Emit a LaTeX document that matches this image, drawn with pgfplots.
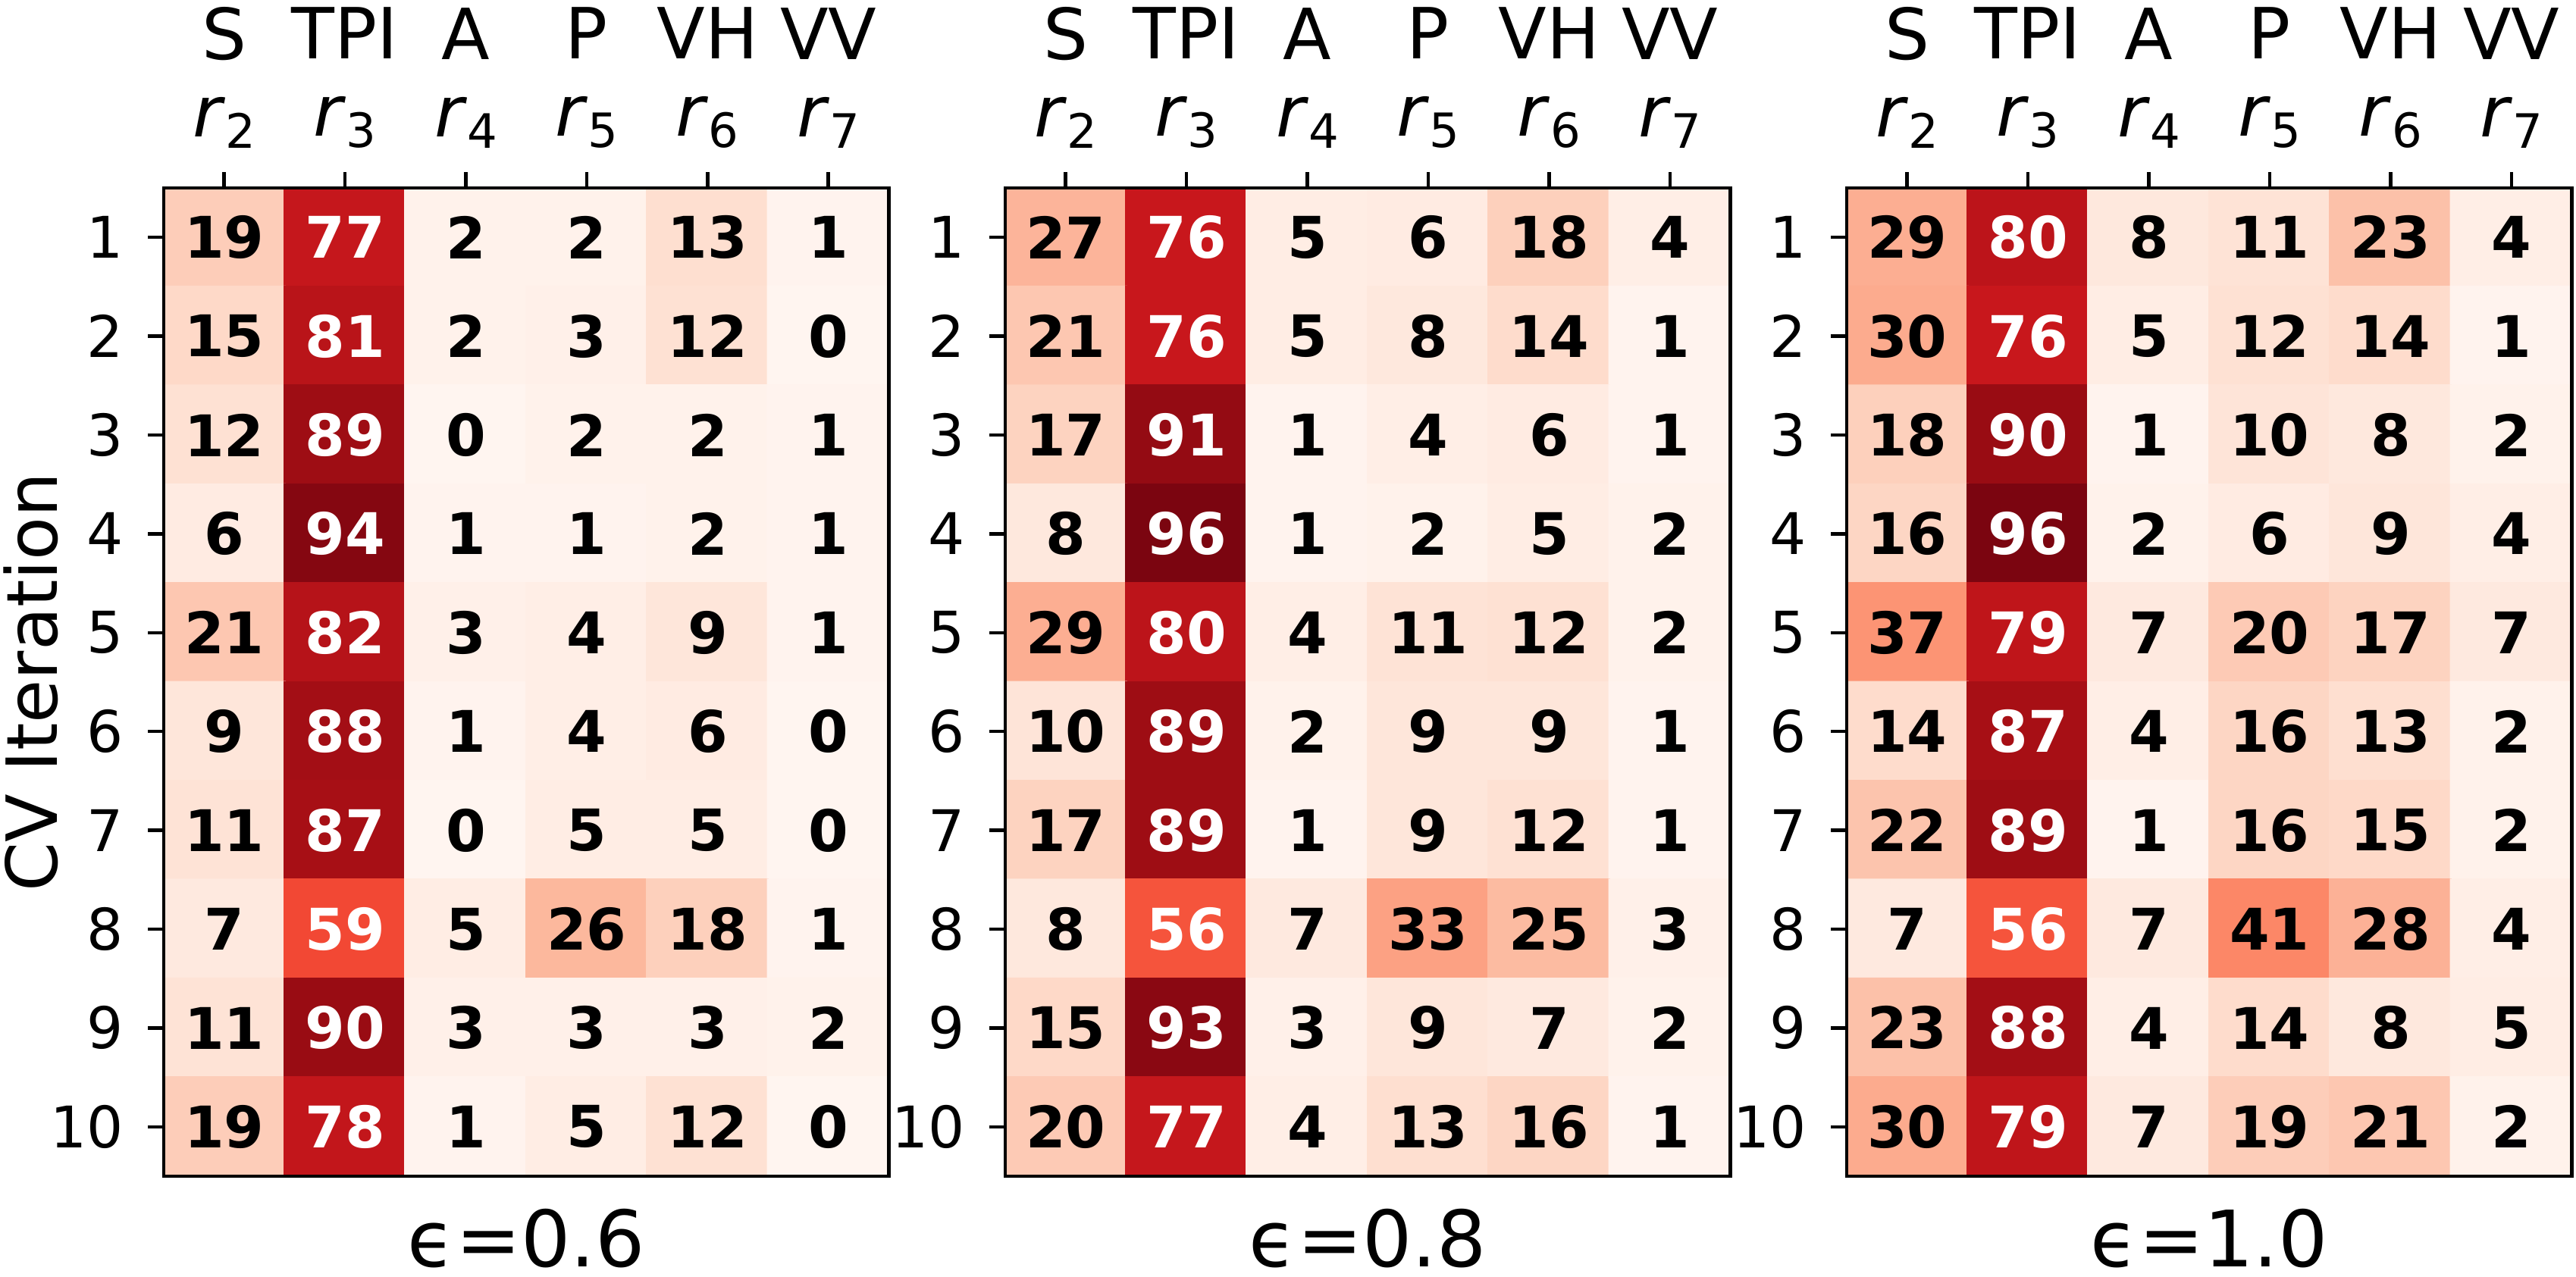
\documentclass[border=0pt]{standalone}
\usepackage{fontspec}
\setmainfont{DejaVu Sans}
\usepackage{pgfplots}
\pgfplotsset{compat=1.18}
\usepackage{pgfplotstable}

\pgfplotstableread{
x y v
0 1 19
1 1 77
2 1 2
3 1 2
4 1 13
5 1 1
0 2 15
1 2 81
2 2 2
3 2 3
4 2 12
5 2 0
0 3 12
1 3 89
2 3 0
3 3 2
4 3 2
5 3 1
0 4 6
1 4 94
2 4 1
3 4 1
4 4 2
5 4 1
0 5 21
1 5 82
2 5 3
3 5 4
4 5 9
5 5 1
0 6 9
1 6 88
2 6 1
3 6 4
4 6 6
5 6 0
0 7 11
1 7 87
2 7 0
3 7 5
4 7 5
5 7 0
0 8 7
1 8 59
2 8 5
3 8 26
4 8 18
5 8 1
0 9 11
1 9 90
2 9 3
3 9 3
4 9 3
5 9 2
0 10 19
1 10 78
2 10 1
3 10 5
4 10 12
5 10 0
}\tabA

\pgfplotstableread{
x y v
0 1 27
1 1 76
2 1 5
3 1 6
4 1 18
5 1 4
0 2 21
1 2 76
2 2 5
3 2 8
4 2 14
5 2 1
0 3 17
1 3 91
2 3 1
3 3 4
4 3 6
5 3 1
0 4 8
1 4 96
2 4 1
3 4 2
4 4 5
5 4 2
0 5 29
1 5 80
2 5 4
3 5 11
4 5 12
5 5 2
0 6 10
1 6 89
2 6 2
3 6 9
4 6 9
5 6 1
0 7 17
1 7 89
2 7 1
3 7 9
4 7 12
5 7 1
0 8 8
1 8 56
2 8 7
3 8 33
4 8 25
5 8 3
0 9 15
1 9 93
2 9 3
3 9 9
4 9 7
5 9 2
0 10 20
1 10 77
2 10 4
3 10 13
4 10 16
5 10 1
}\tabB

\pgfplotstableread{
x y v
0 1 29
1 1 80
2 1 8
3 1 11
4 1 23
5 1 4
0 2 30
1 2 76
2 2 5
3 2 12
4 2 14
5 2 1
0 3 18
1 3 90
2 3 1
3 3 10
4 3 8
5 3 2
0 4 16
1 4 96
2 4 2
3 4 6
4 4 9
5 4 4
0 5 37
1 5 79
2 5 7
3 5 20
4 5 17
5 5 7
0 6 14
1 6 87
2 6 4
3 6 16
4 6 13
5 6 2
0 7 22
1 7 89
2 7 1
3 7 16
4 7 15
5 7 2
0 8 7
1 8 56
2 8 7
3 8 41
4 8 28
5 8 4
0 9 23
1 9 88
2 9 4
3 9 14
4 9 8
5 9 5
0 10 30
1 10 79
2 10 7
3 10 19
4 10 21
5 10 2
}\tabC

\newcommand\rl[1]{\textit{r}\raisebox{-2.2pt}{\fontsize{9}{9}\selectfont #1}}

\pgfplotsset{
  colormap={reds}{rgb255(0)=(255,245,240) rgb255(1)=(254,224,210) rgb255(2)=(252,187,161)
    rgb255(3)=(252,146,114) rgb255(4)=(251,106,74) rgb255(5)=(239,59,44)
    rgb255(6)=(203,24,29) rgb255(7)=(165,15,21) rgb255(8)=(103,0,13)},
  hm/.style={
    scale only axis,
    width=137.74pt, height=187.78pt,
    anchor=south west,
    axis on top,
    xmin=-0.5, xmax=5.5, ymin=0.5, ymax=10.5,
    y dir=reverse,
    xtick={0,...,5}, ytick={1,...,10},
    xticklabels={{S\\\rl{2}},{TPI\\\rl{3}},{A\\\rl{4}},{P\\\rl{5}},{VH\\\rl{6}},{VV\\\rl{7}}},
    xtick pos=right, xticklabel pos=right,
    ytick pos=left,
    tick align=outside,
    major tick length=3pt,
    every tick/.style={black, line width=0.65pt},
    axis line style={line width=0.65pt, black},
    /pgf/number format/assume math mode=true,
    xticklabel style={align=center, anchor=south, inner sep=0pt, yshift=4.34pt,
      font=\fontsize{13.4pt}{14.7pt}\selectfont},
    yticklabel style={anchor=east, inner sep=0pt, xshift=-4.5pt,
      font=\fontsize{10.9pt}{12pt}\selectfont},
    colormap name=reds,
    point meta min=0, point meta max=100,
    xlabel style={at={(axis description cs:0.5,-0.092)}, anchor=base, inner sep=0pt,
      font=\fontsize{14.8pt}{16pt}\selectfont},
    ylabel style={at={(axis description cs:-0.1464,0.5)}, anchor=base, inner sep=0pt, rotate=0,
      font=\fontsize{13.4pt}{15pt}\selectfont},
  },
  cells/.style={
    matrix plot*, mesh/cols=6, point meta=explicit,
    nodes near coords={\ifdim\pgfplotspointmetatransformed pt>500pt\color{white}\fi\pgfmathprintnumber\pgfplotspointmeta},
    every node near coord/.append style={anchor=center, inner sep=0pt, text=black,
      font=\fontsize{10.9pt}{12pt}\selectfont\bfseries},
  },
}

\begin{document}
\begin{tikzpicture}
\useasboundingbox (0,0) rectangle (489.31pt,242.50pt);
\begin{axis}[hm, at={(31.10pt,19.008pt)}, xlabel={ϵ=0.6}, ylabel={CV Iteration}]
\addplot[cells] table[x=x, y=y, meta=v] {\tabA};
\end{axis}
\begin{axis}[hm, at={(190.94pt,19.008pt)}, xlabel={ϵ=0.8}]
\addplot[cells] table[x=x, y=y, meta=v] {\tabB};
\end{axis}
\begin{axis}[hm, at={(350.78pt,19.008pt)}, xlabel={ϵ=1.0}]
\addplot[cells] table[x=x, y=y, meta=v] {\tabC};
\end{axis}
\end{tikzpicture}
\end{document}
